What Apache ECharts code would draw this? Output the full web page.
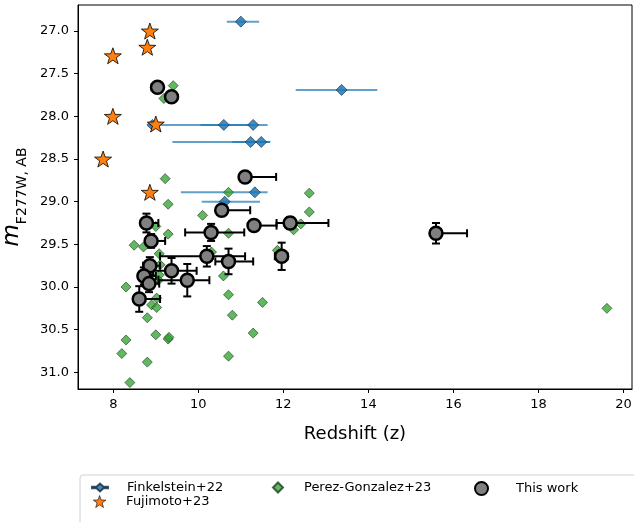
<!DOCTYPE html>
<html>
<head>
<meta charset="utf-8">
<script src="https://cdn.jsdelivr.net/npm/echarts@6/dist/echarts.min.js"></script>
<style>html,body{margin:0;padding:0;background:#fff}#c{width:634px;height:522px}</style>
</head>
<body>
<div id="c"></div>
<script>
// ---- Data ----
const xTicks = [8, 10, 12, 14, 16, 18, 20];
const yTicks = [27.0, 27.5, 28.0, 28.5, 29.0, 29.5, 30.0, 30.5, 31.0];

// Finkelstein+22
const finkZ   = [11.00, 13.37, 8.92, 10.60, 11.29, 11.23, 11.48, 11.33, 10.62];
const finkM   = [26.89, 27.69, 28.10, 28.10, 28.10, 28.30, 28.30, 28.89, 29.00];
const finkZlo = [10.67, 12.29, 8.85, 8.85, 10.05, 9.39, 10.80, 9.59, 10.08];
const finkZhi = [11.43, 14.21, 9.00, 11.25, 11.63, 11.69, 11.69, 11.63, 11.45];

// Fujimoto+23
const fujiZ = [8.86, 8.80, 7.99, 7.99, 9.00, 7.76, 8.86];
const fujiM = [27.00, 27.19, 27.29, 28.00, 28.09, 28.50, 28.89];

// Perez-Gonzalez+23
const pgZ = [9.41, 9.19, 9.22, 10.71, 12.61, 9.29, 10.10, 10.71, 9.29, 9.00, 8.49, 8.71, 9.08, 10.31, 9.10, 9.08, 9.06, 10.59, 8.30, 9.02, 8.90, 9.02, 10.71, 11.51, 10.80, 8.80, 9.00, 9.29, 9.31, 11.29, 8.30, 8.20, 8.80, 10.71, 8.39, 12.61, 12.41, 12.24, 11.86, 19.61];
const pgM = [27.64, 27.79, 28.73, 28.89, 28.90, 29.03, 29.16, 29.37, 29.38, 29.29, 29.51, 29.53, 29.61, 29.59, 29.74, 29.86, 29.92, 29.87, 30.00, 30.13, 30.21, 30.24, 30.09, 30.18, 30.33, 30.36, 30.56, 30.61, 30.59, 30.54, 30.62, 30.78, 30.88, 30.81, 31.12, 29.12, 29.26, 29.33, 29.57, 30.25];

// This work
const thisZ    = [9.04, 9.37, 11.10, 10.55, 8.78, 10.30, 11.31, 12.16, 8.89, 10.20, 10.71, 9.37, 8.86, 8.72, 8.84, 9.74, 8.61, 11.96, 15.59];
const thisM    = [27.66, 27.77, 28.71, 29.10, 29.25, 29.36, 29.28, 29.25, 29.46, 29.64, 29.70, 29.81, 29.75, 29.87, 29.96, 29.92, 30.14, 29.64, 29.37];
const thisZlo  = [8.90, 9.30, 11.00, 10.45, 8.65, 9.69, 11.20, 11.84, 8.80, 9.10, 10.40, 8.94, 8.70, 8.60, 8.70, 9.06, 8.50, 11.80, 15.50];
const thisZhi  = [9.10, 9.45, 11.83, 11.22, 9.06, 11.08, 11.84, 13.06, 9.22, 11.10, 11.29, 9.96, 9.10, 9.00, 9.08, 10.26, 9.10, 12.10, 16.32];
const thisMerr = [0.05, 0.05, 0.05, 0.06, 0.11, 0.10, 0.06, 0.07, 0.08, 0.12, 0.15, 0.15, 0.10, 0.10, 0.10, 0.19, 0.15, 0.16, 0.12];

// ---- Chart ----
const FONT = 'DejaVu Sans';
const STAR = 'path://M0,-10 L2.35,-3.24 L9.51,-3.09 L3.8,1.24 L5.88,8.09 L0,4 L-5.88,8.09 L-3.8,1.24 L-9.51,-3.09 L-2.35,-3.24 Z';
const FINK_ICON = 'path://M-8,-0.8 L-3.5,-0.8 L0,-4 L3.5,-0.8 L8,-0.8 L8,0.8 L3.5,0.8 L0,4 L-3.5,0.8 L-8,0.8 Z';

const zip2 = (a, b) => a.map((v, i) => [v, b[i]]);

const chart = echarts.init(document.getElementById('c'), null, {renderer: 'canvas'});

const option = {
  animation: false,
  textStyle: {fontFamily: FONT},
  grid: {left: 78, top: 5, right: 2, bottom: 133, show: true, borderColor: '#000', borderWidth: 1,
    backgroundColor: 'transparent', outerBoundsMode: 'none', containLabel: false},
  xAxis: {
    type: 'value', min: 7.17, max: 20.2,
    splitLine: {show: false},
    axisLine: {show: true, onZero: false, lineStyle: {color: '#000', width: 1}},
    axisTick: {show: true, inside: false, length: 4, lineStyle: {color: '#000'}, customValues: xTicks},
    axisLabel: {color: '#000', fontSize: 13, margin: 9, fontFamily: FONT, customValues: xTicks},
    name: 'Redshift (z)', nameLocation: 'middle', nameGap: 36,
    nameTextStyle: {fontSize: 18, color: '#000', fontFamily: FONT}
  },
  yAxis: {
    type: 'value', inverse: true, min: 26.695, max: 31.195,
    splitLine: {show: false},
    axisLine: {show: true, onZero: false, lineStyle: {color: '#000', width: 1}},
    axisTick: {show: true, inside: false, length: 4, lineStyle: {color: '#000'}, customValues: yTicks},
    axisLabel: {color: '#000', fontSize: 13, margin: 9, fontFamily: FONT, customValues: yTicks,
      formatter: v => Number(v).toFixed(1)},
    name: '{a|m}{b|F277W, AB}', nameLocation: 'middle', nameGap: 48,
    nameTextStyle: {color: '#000', rich: {
      a: {fontSize: 23, fontStyle: 'italic', fontFamily: FONT, color: '#000'},
      b: {fontSize: 14, fontFamily: FONT, color: '#000', verticalAlign: 'bottom', padding: [0, 0, -6, 0]}
    }}
  },
  legend: [
    {data: [{name: 'Finkelstein+22', icon: FINK_ICON}], left: 91, top: 481, padding: 0, itemWidth: 16, itemHeight: 8,
      textStyle: {fontSize: 13, color: '#000', fontFamily: FONT, padding: [0, 0, 0, 14]}, selectedMode: false},
    {data: [{name: 'Perez-Gonzalez+23', icon: 'diamond'}], left: 272, top: 481, padding: 0, itemWidth: 10, itemHeight: 10,
      textStyle: {fontSize: 13, color: '#000', fontFamily: FONT, padding: [0, 0, 0, 16]}, selectedMode: false},
    {data: [{name: 'This work', icon: 'circle'}], left: 474, top: 481, padding: 0, itemWidth: 13, itemHeight: 13,
      textStyle: {fontSize: 13, color: '#000', fontFamily: FONT, padding: [0, 0, 0, 23]}, selectedMode: false},
    {data: [{name: 'Fujimoto+23', icon: STAR, itemStyle: {borderWidth: 0.6}}], left: 93, top: 495, padding: 0, itemWidth: 13, itemHeight: 12,
      textStyle: {fontSize: 13, color: '#000', fontFamily: FONT, padding: [0, 0, 0, 15]}, selectedMode: false}
  ],
  graphic: [
    {type: 'rect', left: 79.5, top: 474.5, z: -1, shape: {width: 600, height: 60, r: 3},
      style: {fill: '#fff', stroke: '#d0d0d0', lineWidth: 1}}
  ],
  series: [
    {
      name: 'finkErr', type: 'custom', z: 1, silent: true,
      data: finkZ.map((z, i) => [z, finkM[i], finkZlo[i], finkZhi[i]]),
      renderItem: (params, api) => {
        const m = api.value(1);
        const a = api.coord([api.value(2), m]), b = api.coord([api.value(3), m]);
        return {type: 'line', shape: {x1: a[0], y1: a[1], x2: b[0], y2: b[1]},
          style: {stroke: 'rgba(31,119,180,0.7)', lineWidth: 2}};
      }
    },
    {
      name: 'Finkelstein+22', type: 'scatter', z: 2, symbol: 'diamond', symbolSize: 11,
      data: zip2(finkZ, finkM),
      itemStyle: {color: 'rgba(31,119,180,0.85)', borderColor: 'rgba(20,40,60,0.8)', borderWidth: 0.8, opacity: 1}
    },
    {
      name: 'Fujimoto+23', type: 'scatter', z: 3, symbol: STAR, symbolSize: [17, 16],
      data: zip2(fujiZ, fujiM),
      itemStyle: {color: '#ff7f0e', borderColor: '#000', borderWidth: 0.8, opacity: 1}
    },
    {
      name: 'Perez-Gonzalez+23', type: 'scatter', z: 4, symbol: 'diamond', symbolSize: 10,
      data: zip2(pgZ, pgM),
      itemStyle: {color: 'rgba(44,160,44,0.75)', borderColor: 'rgba(30,60,30,0.8)', borderWidth: 0.8, opacity: 1}
    },
    {
      name: 'thisErr', type: 'custom', z: 5, silent: true,
      data: thisZ.map((z, i) => [z, thisM[i], thisZlo[i], thisZhi[i], thisMerr[i]]),
      renderItem: (params, api) => {
        const z = api.value(0), m = api.value(1), e = api.value(4);
        const l = api.coord([api.value(2), m]), h = api.coord([api.value(3), m]);
        const t = api.coord([z, m - e]), b = api.coord([z, m + e]);
        const cap = 4;
        const st = {stroke: '#000', lineWidth: 2};
        const ln = (x1, y1, x2, y2) => ({type: 'line', shape: {x1, y1, x2, y2}, style: st});
        return {type: 'group', children: [
          ln(l[0], l[1], h[0], h[1]),
          ln(l[0], l[1] - cap, l[0], l[1] + cap),
          ln(h[0], h[1] - cap, h[0], h[1] + cap),
          ln(t[0], t[1], b[0], b[1]),
          ln(t[0] - cap, t[1], t[0] + cap, t[1]),
          ln(b[0] - cap, b[1], b[0] + cap, b[1])
        ]};
      }
    },
    {
      name: 'This work', type: 'scatter', z: 6, symbol: 'circle', symbolSize: 13,
      data: zip2(thisZ, thisM),
      itemStyle: {color: '#808080', borderColor: '#000', borderWidth: 2.5, opacity: 1}
    }
  ]
};
chart.setOption(option);
</script>
</body>
</html>
